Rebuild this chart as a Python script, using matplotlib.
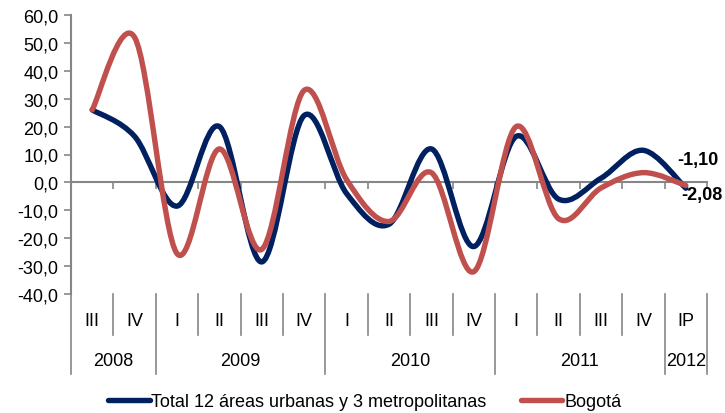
import numpy as np
import matplotlib
matplotlib.use("Agg")
import matplotlib.pyplot as plt
from matplotlib.path import Path
from matplotlib.patches import PathPatch
from matplotlib.lines import Line2D
from matplotlib.transforms import blended_transform_factory
from matplotlib.ticker import FuncFormatter

plt.rcParams['font.family'] = ['Liberation Sans', 'DejaVu Sans']

# Quarterly variation (%)
quarters = ["III", "IV", "I", "II", "III", "IV", "I", "II", "III", "IV",
            "I", "II", "III", "IV", "IP"]
years = ["2008", "2009", "2010", "2011", "2012"]
year_spans = [2, 4, 4, 4, 1]
total_12 = [26.0, 16.5, -8.5, 20.0, -28.5, 24.0, -4.0, -15.0, 12.0, -23.0,
            16.5, -6.0, 1.5, 11.5, -2.08]
bogota = [26.0, 52.0, -25.5, 12.0, -24.0, 33.0, 1.0, -14.0, 3.5, -32.0,
          20.0, -13.0, -2.0, 3.5, -1.10]

BLUE = "#002060"
RED = "#C0504D"
GRAY = "#868686"
LW = 3.9

W, H = 725, 414
fig = plt.figure(figsize=(W / 100, H / 100), dpi=100)
ax = fig.add_axes([71 / W, 1 - 295 / H, (707 - 71) / W, (295 - 16) / H])


def smooth_path(xs, ys):
    """Cardinal-spline (Catmull-Rom) curve through the points as cubic Beziers."""
    pts = np.column_stack([xs, ys]).astype(float)
    n = len(pts)
    verts = [pts[0]]
    codes = [Path.MOVETO]
    for i in range(n - 1):
        p0 = pts[i - 1] if i > 0 else pts[i]
        p1 = pts[i]
        p2 = pts[i + 1]
        p3 = pts[i + 2] if i + 2 < n else pts[i + 1]
        c1 = p1 + (p2 - p0) / 6.0
        c2 = p2 - (p3 - p1) / 6.0
        verts += [c1, c2, p2]
        codes += [Path.CURVE4] * 3
    return Path(verts, codes)


xs = np.arange(len(quarters)) + 0.5
for vals, col in [(total_12, BLUE), (bogota, RED)]:
    patch = PathPatch(smooth_path(xs, vals), facecolor="none", edgecolor=col,
                      lw=LW, capstyle="round", joinstyle="round", zorder=3)
    ax.add_patch(patch)

ax.set_xlim(0, len(quarters))
ax.set_ylim(-40, 60)

# Axes styling
for s in ["top", "right"]:
    ax.spines[s].set_visible(False)
ax.spines["left"].set_color(GRAY)
ax.spines["left"].set_linewidth(1.5)
ax.spines["bottom"].set_position(("data", 0))
ax.spines["bottom"].set_color(GRAY)
ax.spines["bottom"].set_linewidth(1.5)
ax.spines["bottom"].set_zorder(2)

ax.set_yticks(np.arange(-40, 61, 10))
ax.yaxis.set_major_formatter(FuncFormatter(lambda v, p: f"{v:.1f}".replace(".", ",")))
ax.tick_params(axis="y", direction="out", length=5, width=1.2, color=GRAY,
               labelsize=13, pad=4, labelcolor="black")
ax.set_xticks(np.arange(0, len(quarters) + 1))
ax.tick_params(axis="x", direction="out", length=5, width=1.2, color=GRAY,
               labelbottom=False)

# Category table below the plot
tr = blended_transform_factory(ax.transData, fig.transFigure)
y_top = 1 - 295 / H
y_mid = 1 - 336 / H
y_bot = 1 - 375 / H
year_edges = np.concatenate([[0], np.cumsum(year_spans)])
for b in range(len(quarters) + 1):
    bottom = y_bot if b in year_edges else y_mid
    ax.add_line(Line2D([b, b], [y_top, bottom], transform=tr, color=GRAY,
                       lw=1.2, clip_on=False))
for i, q in enumerate(quarters):
    ax.text(i + 0.5, 1 - 322 / H, q, transform=tr, ha="center", va="center",
            fontsize=13)
for j, yr in enumerate(years):
    cx = (year_edges[j] + year_edges[j + 1]) / 2
    ax.text(cx, 1 - 362 / H, yr, transform=tr, ha="center", va="center",
            fontsize=13)

# End-point value labels
ax.annotate(f"{bogota[-1]:.2f}".replace(".", ","), (xs[-1], bogota[-1]),
            xytext=(-9, 26), textcoords="offset pixels", ha="left", va="center",
            fontsize=13, fontweight="bold")
ax.annotate(f"{total_12[-1]:.2f}".replace(".", ","), (xs[-1], total_12[-1]),
            xytext=(-5, -6), textcoords="offset pixels", ha="left", va="center",
            fontsize=13, fontweight="bold")

handles = [Line2D([], [], color=BLUE, lw=LW, solid_capstyle="round"),
           Line2D([], [], color=RED, lw=LW, solid_capstyle="round")]
fig.legend(handles, ["Total 12 áreas urbanas y 3 metropolitanas", "Bogotá"],
           loc="center", bbox_to_anchor=(0.503, 1 - 403 / H), ncol=2,
           frameon=False, fontsize=13, handlelength=2.3, handletextpad=0.1,
           columnspacing=1.9, borderpad=0)

fig.savefig("out.png", dpi=100)
